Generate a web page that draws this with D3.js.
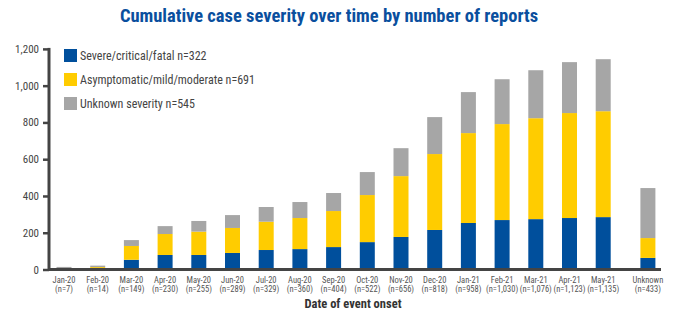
<!DOCTYPE html>
<html>
<head>
<meta charset="utf-8">
<script src="https://cdn.jsdelivr.net/npm/d3@7"></script>
<style>
  body { margin: 0; background: #fff; }
  svg text { font-family: "Liberation Sans Narrow", "Arial Narrow", "Roboto Condensed", "Liberation Sans", sans-serif; }
</style>
</head>
<body>
<div id="chart"></div>
<script>
// Data
const categories = ["Jan-20", "Feb-20", "Mar-20", "Apr-20", "May-20", "Jun-20", "Jul-20", "Aug-20",
  "Sep-20", "Oct-20", "Nov-20", "Dec-20", "Jan-21", "Feb-21", "Mar-21", "Apr-21", "May-21", "Unknown"];
const counts = ["7", "14", "149", "230", "255", "289", "329", "360", "404", "522", "656", "818",
  "958", "1,030", "1,076", "1,123", "1,135", "433"];
const severe = [0, 8, 53, 79, 79, 90, 106, 111, 122, 149, 177, 215, 253, 269, 274, 280, 285, 63];
const mild = [0, 5, 75, 114, 127, 136, 154, 169, 196, 256, 331, 413, 489, 522, 549, 571, 576, 108];
const unknown = [14, 8, 32, 43, 58, 70, 80, 87, 98, 125, 152, 201, 223, 244, 261, 277, 283, 272];
const seriesNames = ["Severe/critical/fatal n=322", "Asymptomatic/mild/moderate n=691", "Unknown severity n=545"];
const yTicks = [0, 200, 400, 600, 800, 1000, 1200];

const width = 674, height = 313;
const colors = ["#004f9c", "#ffcc00", "#a6a6a6"];

const svg = d3.select("#chart").append("svg")
  .attr("width", width)
  .attr("height", height);

const rows = categories.map((c, i) => ({ cat: c, severe: severe[i], mild: mild[i], unknown: unknown[i] }));
const stack = d3.stack().keys(["severe", "mild", "unknown"])(rows);

const x = d3.scaleBand()
  .domain(categories)
  .range([47.15, 47.15 + 18 * 33.7])
  .paddingInner(0.555)
  .paddingOuter(0.2775);
const unknownGap = 11;
const xPos = c => x(c) + (c === "Unknown" ? unknownGap : 0);

const y = d3.scaleLinear().domain([0, 1200]).range([269.5, 48.9]);

// bars
svg.append("g").selectAll("g")
  .data(stack)
  .join("g")
  .attr("fill", (d, i) => colors[i])
  .selectAll("rect")
  .data(d => d)
  .join("rect")
  .attr("x", d => xPos(d.data.cat))
  .attr("width", x.bandwidth())
  .attr("y", d => y(d[1]))
  .attr("height", d => y(d[0]) - y(d[1]));

// y axis
const yAxis = svg.append("g")
  .attr("transform", "translate(49,0)")
  .call(d3.axisLeft(y).tickValues(yTicks).tickFormat(d3.format(",")).tickSize(6).tickSizeOuter(0));
yAxis.select(".domain").attr("stroke", "#444").attr("stroke-width", 3)
  .attr("d", `M0,${y(1200) - 1}V${y(0) + 1.5}`);
yAxis.selectAll(".tick line").attr("stroke", "#444").attr("stroke-width", 2.5);
yAxis.selectAll(".tick text").attr("fill", "#444").style("font-size", "11px").attr("x", -10);

// baseline
svg.append("line")
  .attr("x1", 49).attr("x2", 661)
  .attr("y1", y(0)).attr("y2", y(0))
  .attr("stroke", "#444").attr("stroke-width", 3);

// x labels
const xl = svg.append("g").selectAll("text")
  .data(categories)
  .join("text")
  .attr("text-anchor", "middle")
  .attr("fill", "#555")
  .style("font-size", "8.5px");
xl.append("tspan")
  .attr("x", c => xPos(c) + x.bandwidth() / 2)
  .attr("y", 283)
  .text(c => c);
xl.append("tspan")
  .attr("x", c => xPos(c) + x.bandwidth() / 2)
  .attr("y", 292)
  .text((c, i) => `(n=${counts[i]})`);

// axis title
svg.append("text")
  .attr("x", 353).attr("y", 308)
  .attr("text-anchor", "middle")
  .attr("fill", "#333")
  .style("font-size", "12.5px")
  .style("font-weight", "bold")
  .text("Date of event onset");

// title
svg.append("text")
  .attr("x", 329).attr("y", 22)
  .attr("text-anchor", "middle")
  .attr("fill", "#0a4f9e")
  .style("font-size", "18.5px")
  .style("font-weight", "bold")
  .text("Cumulative case severity over time by number of reports");

// legend
const legend = svg.append("g").selectAll("g")
  .data(seriesNames)
  .join("g")
  .attr("transform", (d, i) => `translate(64,${49 + i * 24})`);
legend.append("rect")
  .attr("width", 13).attr("height", 13)
  .attr("fill", (d, i) => colors[i]);
legend.append("text")
  .attr("x", 16).attr("y", 10.5)
  .attr("fill", "#444")
  .style("font-size", "12px")
  .text(d => d);
</script>
</body>
</html>
